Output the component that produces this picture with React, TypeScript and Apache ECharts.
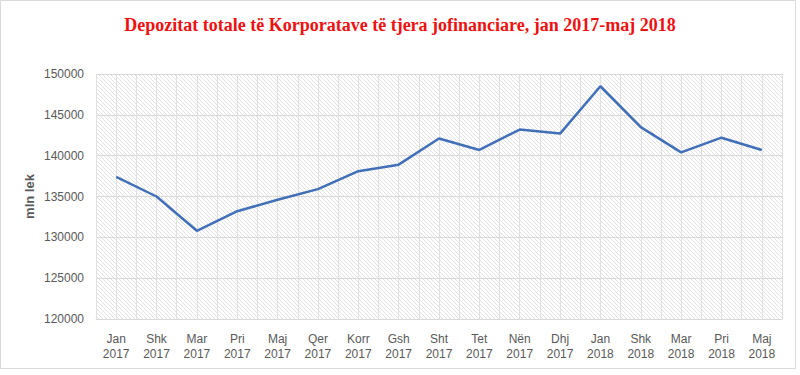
import React, { useEffect, useRef } from "react";
import * as echarts from "echarts";

const months = ["Jan", "Shk", "Mar", "Pri", "Maj", "Qer", "Korr", "Gsh", "Sht", "Tet", "Nën", "Dhj", "Jan", "Shk", "Mar", "Pri", "Maj"];
const years = ["2017", "2017", "2017", "2017", "2017", "2017", "2017", "2017", "2017", "2017", "2017", "2017", "2018", "2018", "2018", "2018", "2018"];
const deposits = [137400, 135000, 130800, 133200, 134600, 135900, 138100, 138900, 142100, 140700, 143200, 142700, 148500, 143500, 140400, 142200, 140700];
const yMin = 120000;
const yMax = 150000;
const yStep = 5000;
const titleText = "Depozitat totale të Korporatave të tjera jofinanciare, jan 2017-maj 2018";
const yName = "mln lek";

function makeHatch(): string {
  const c = document.createElement("canvas");
  c.width = 4;
  c.height = 4;
  const ctx = c.getContext("2d")!;
  ctx.fillStyle = "#ffffff";
  ctx.fillRect(0, 0, 4, 4);
  ctx.fillStyle = "#e3e3e3";
  for (let i = 0; i < 4; i++) ctx.fillRect(i, i, 1, 1);
  return c.toDataURL();
}

export default function App() {
  const ref = useRef<HTMLDivElement>(null);
  useEffect(() => {
    document.body.style.margin = "0";
    const chart = echarts.init(ref.current!, null, { renderer: "svg" });
    const categories = months.map((m, i) => m + "\n" + years[i]);
    const hatch = makeHatch();
    chart.setOption({
      animation: false,
      backgroundColor: "#ffffff",
      title: {
        text: titleText,
        left: "center",
        top: 11,
        textStyle: {
          fontFamily: "Liberation Serif",
          fontWeight: "bold",
          fontSize: 18,
          color: "#ee1111",
        },
      },
      graphic: [
        {
          type: "rect",
          shape: { x: 0.5, y: 0.5, width: 795, height: 368 },
          style: { fill: "none", stroke: "#d9d9d9", lineWidth: 1 },
          silent: true,
          z: -1,
        },
      ],
      grid: {
        left: 96,
        right: 18,
        top: 74,
        bottom: 56,
        show: true,
        borderWidth: 0,
        backgroundColor: { image: hatch, repeat: "repeat", imageWidth: 4, imageHeight: 4 },
      },
      xAxis: [
        {
          type: "category",
          data: categories,
          boundaryGap: true,
          axisLine: { lineStyle: { color: "#d9d9d9", width: 1 } },
          axisTick: { show: false },
          splitLine: { show: false },
          axisLabel: {
            color: "#595959",
            fontSize: 12,
            lineHeight: 15,
            fontFamily: "Liberation Sans",
            margin: 12,
            interval: 0,
          },
        },
        {
          type: "value",
          min: 0,
          max: months.length * 2,
          interval: 1,
          position: "bottom",
          axisLine: { show: false },
          axisTick: { show: false },
          axisLabel: { show: false },
          splitLine: { show: true, lineStyle: { color: "#e0e0e0", width: 1 } },
        },
      ],
      yAxis: {
        type: "value",
        min: yMin,
        max: yMax,
        interval: yStep,
        name: yName,
        nameLocation: "middle",
        nameGap: 60,
        nameMoveOverlap: false,
        nameTextStyle: {
          color: "#595959",
          fontWeight: "bold",
          fontSize: 13,
          fontFamily: "Liberation Sans",
        },
        axisLine: { show: false },
        axisTick: { show: false },
        axisLabel: {
          color: "#595959",
          fontSize: 12,
          fontFamily: "Liberation Sans",
          margin: 12,
          formatter: (v: number) => String(v),
        },
        splitLine: { lineStyle: { color: "#d9d9d9", width: 1 } },
      },
      series: [
        {
          type: "line",
          xAxisIndex: 0,
          data: deposits,
          symbol: "none",
          lineStyle: { color: "#4170b8", width: 2.5 },
          z: 5,
        },
      ],
    });
    return () => chart.dispose();
  }, []);
  return <div ref={ref} style={{ width: 800, height: 375 }} />;
}
